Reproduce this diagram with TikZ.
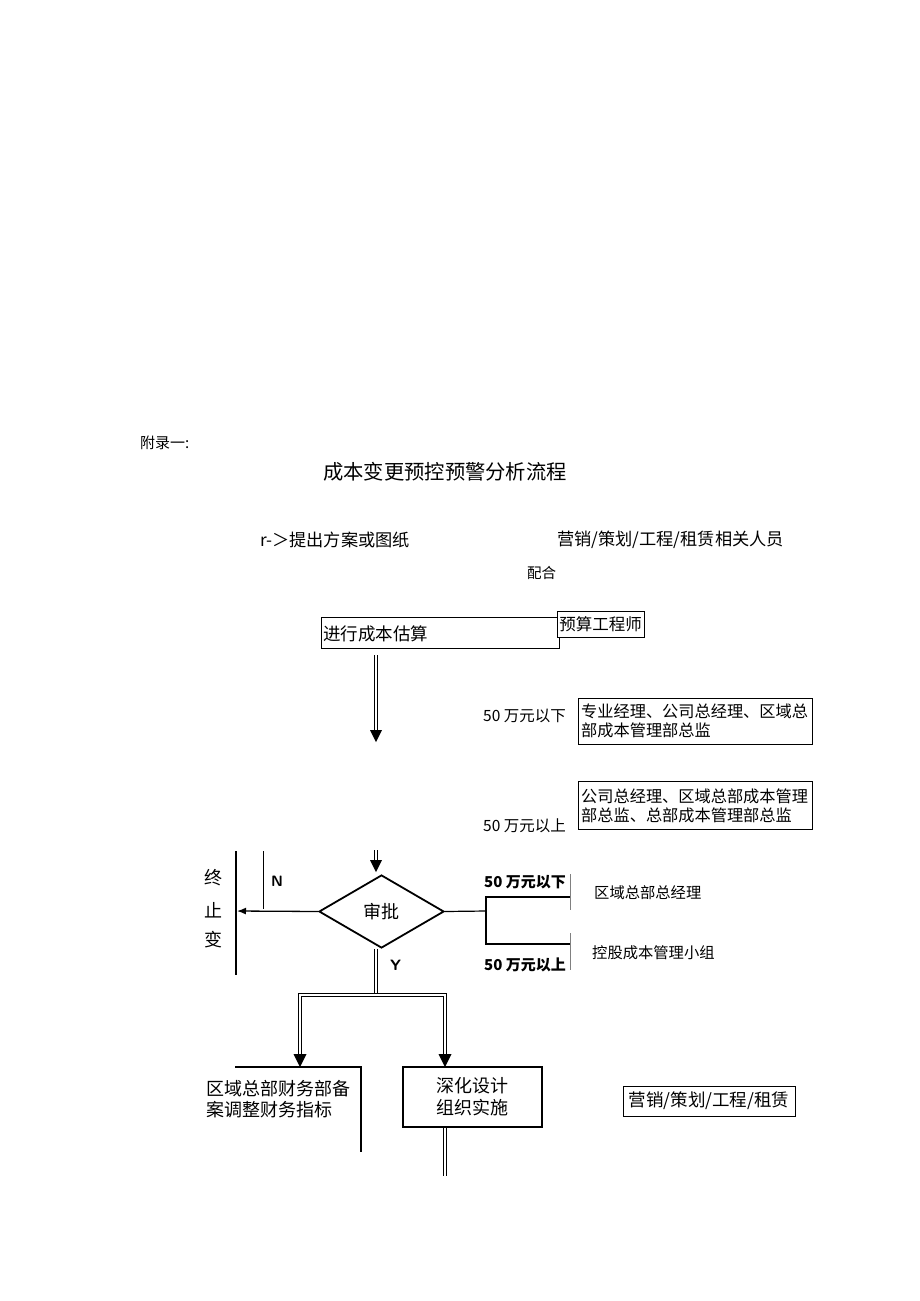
\documentclass[tikz,border=0pt]{standalone}
\usepackage{fontspec}
\setmainfont{Noto Sans CJK SC}
\usetikzlibrary{shapes.geometric,arrows.meta,calc}
\begin{document}
\begin{tikzpicture}[x=1pt,y=-1pt,
  txt/.style={anchor=west,inner sep=0pt,font=\fontsize{#1}{#1}\selectfont},
  ctxt/.style={inner sep=0pt,font=\fontsize{#1}{#1}\selectfont},
  thinbox/.style={draw,line width=0.6pt,inner sep=0pt},
  dbl/.style={draw,double,double distance=2.2pt,line width=1.1pt},
  thin/.style={draw,line width=0.8pt},
  heavy/.style={draw,line width=2pt},
  tip/.style={fill=black}
]
\useasboundingbox (0,0) rectangle (920,1301);

% header texts
\node[txt=15] (app) at (140,443) {附录一:};
\node[txt=20.3] (title) at (323,472) {成本变更预控预警分析流程};
\node[txt=17.2] (propose) at (260,540) {r-＞提出方案或图纸};
\node[txt=17.2] (staff) at (557,540) {营销/策划/工程/租赁相关人员};
\node[txt=14.5] (coop) at (527,573) {配合};

% estimation box
\node[thinbox,minimum width=238pt,minimum height=31pt] (est) at (440,632.5) {};
\node[txt=17.5] (esttxt) at (323,634) {进行成本估算};
\node[thinbox,minimum width=87pt,minimum height=26pt,fill=white,font=\fontsize{16.5}{16.5}\selectfont] (eng) at (600.5,624) {预算工程师};

% first double arrow
\coordinate (a1s) at (376,655);
\coordinate (a1e) at (376,733);
\coordinate (a1t) at (376,742);
\draw[dbl] (a1s) -- (a1e);
\fill[tip] (a1t) -- ($(a1t)+(-6,-12)$) -- ($(a1t)+(6,-12)$) -- cycle;

% approval levels
\node[txt=15.5] (lvl1) at (483,716) {50 万元以下};
\node[thinbox,minimum width=234pt,minimum height=46pt] (appr1) at (695,721) {};
\node[txt=16.2,align=left] (appr1t) at (581,721) {专业经理、公司总经理、区域总\\[3pt]部成本管理部总监};
\node[thinbox,minimum width=234pt,minimum height=48pt] (appr2) at (695,805) {};
\node[txt=16.2,align=left] (appr2t) at (581,806) {公司总经理、区域总部成本管理\\[3pt]部总监、总部成本管理部总监};
\node[txt=15.5] (lvl2) at (483,826) {50 万元以上};

% second double arrow
\coordinate (a2s) at (376,850);
\coordinate (a2e) at (376,862);
\coordinate (a2t) at (376,872);
\draw[dbl] (a2s) -- (a2e);
\fill[tip] (a2t) -- ($(a2t)+(-6,-12)$) -- ($(a2t)+(6,-12)$) -- cycle;

% decision
\node[draw,diamond,line width=1.8pt,inner sep=0pt,minimum width=125pt,minimum height=73pt,aspect=1.7,font=\fontsize{18}{18}\selectfont] (dec) at (381.5,911.5) {审批};

% N branch
\coordinate (stopTop) at (236,851);
\coordinate (stopBot) at (236,975);
\draw[heavy] (stopTop) -- (stopBot);
\coordinate (stopIn) at (237,911);
\draw[line width=1.3pt,-{Latex[length=9pt,width=7pt]}] (dec.west) -- (stopIn);
\coordinate (nTop) at (263,851);
\coordinate (nBot) at (263,909);
\draw[thin] (nTop) -- (nBot);
\node[txt=15,font=\sffamily\bfseries\fontsize{15}{15}\selectfont] (N) at (271,881) {N};
\node[ctxt=18] (z1) at (213,878) {终};
\node[ctxt=18] (z2) at (213,910) {止};
\node[ctxt=18] (z3) at (213,940) {变};

% right branch
\coordinate (rj) at (486,911);
\coordinate (rt) at (486,897);
\coordinate (rb) at (486,944);
\coordinate (rte) at (570,897);
\coordinate (rbe) at (570,944);
\draw[line width=1.2pt] (dec.east) -- (rj);
\draw[line width=1.2pt] (rte) -- (rt) -- (rb) -- (rbe);
\coordinate (b1t) at (570,874);
\coordinate (b1b) at (570,910);
\coordinate (b2t) at (570,933);
\coordinate (b2b) at (570,970);
\draw[line width=0.6pt,gray] (b1t) -- (b1b);
\draw[line width=0.6pt,gray] (b2t) -- (b2b);
\node[txt=15,font=\bfseries\fontsize{15}{15}\selectfont] (r1) at (484,882) {50 万元以下};
\node[txt=15,font=\bfseries\fontsize{15}{15}\selectfont] (r2) at (484,965) {50 万元以上};
\node[txt=15.3] (rg) at (594,893) {区域总部总经理};
\node[txt=15.3] (kg) at (592,953) {控股成本管理小组};

% Y branch
\node[txt=15,font=\sffamily\bfseries\fontsize{15}{15}\selectfont] (Y) at (390,965) {Y};
\coordinate (split) at (376,995);
\coordinate (lb) at (300,995);
\coordinate (rbr) at (445,995);
\coordinate (le) at (300,1057);
\coordinate (re) at (445,1057);
\coordinate (lt) at (300,1067);
\coordinate (rtp) at (445,1067);
\draw[dbl] (dec.south -| split) -- (split);
\draw[dbl] (le) -- (lb) -- (rbr) -- (re);
\fill[tip] (lt) -- ($(lt)+(-6.5,-13)$) -- ($(lt)+(6.5,-13)$) -- cycle;
\fill[tip] (rtp) -- ($(rtp)+(-6.5,-13)$) -- ($(rtp)+(6.5,-13)$) -- cycle;

% finance
\coordinate (fa) at (235,1067);
\coordinate (fb) at (361,1067);
\coordinate (fc) at (361,1152);
\draw[heavy] (fa) -- (fb) -- (fc);
\node[txt=18,align=left] (fin) at (206,1099) {区域总部财务部备\\[3pt]案调整财务指标};

% implementation
\node[draw,line width=1.8pt,minimum width=139pt,minimum height=60pt,inner sep=0pt,align=center,font=\fontsize{18}{18}\selectfont] (impl) at (472.5,1097) {深化设计\\[4pt]组织实施};
\coordinate (ie) at (445,1176);
\draw[dbl] (impl.south -| ie) -- (ie);

\node[thinbox,minimum width=172pt,minimum height=30pt,font=\fontsize{17.5}{17.5}\selectfont] (mk) at (709,1101) {营销/策划/工程/租赁};
\end{tikzpicture}
\end{document}
